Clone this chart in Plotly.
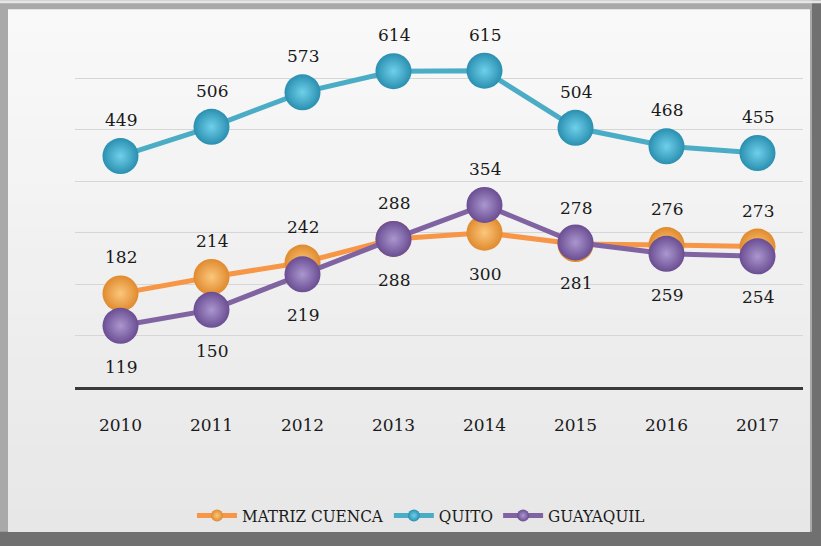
import plotly.graph_objects as go

# data
years = ["2010", "2011", "2012", "2013", "2014", "2015", "2016", "2017"]
matriz_cuenca = [182, 214, 242, 288, 300, 278, 276, 273]
quito = [449, 506, 573, 614, 615, 504, 468, 455]
guayaquil = [119, 150, 219, 288, 354, 281, 259, 254]

# which side of the marker each value label sits on
cuenca_side = ["top", "top", "top", "top", "bottom", "top", "top", "top"]
quito_side = ["top"] * 8
guayaquil_side = ["bottom", "bottom", "bottom", "bottom", "top", "bottom", "bottom", "bottom"]

FONT = "DejaVu Serif"
TEXT = "#1a1a1a"

W, H = 821, 546
L, R, T, B = 75, 18, 27, 156
PW, PH = W - L - R, H - T - B


def px_x(px):
    return (px - L) / PW


def px_y(py):
    return (H - B - py) / PH


# name, values, label sides, line colour, sphere rim, sphere centre
series = [
    ("MATRIZ CUENCA", matriz_cuenca, cuenca_side, "#f79646", "#e08a2e", "#fbc77c"),
    ("QUITO", quito, quito_side, "#4bacc6", "#2a8fb0", "#6fd0ea"),
    ("GUAYAQUIL", guayaquil, guayaquil_side, "#8064a2", "#6a4d92", "#ab97cf"),
]

xpos = list(range(len(years)))

fig = go.Figure()
annotations = []
for name, vals, sides, line_col, rim_col, centre_col in series:
    fig.add_trace(
        go.Scatter(
            x=xpos,
            y=vals,
            name=name,
            mode="lines+markers",
            line=dict(color=line_col, width=5),
            marker=dict(
                size=36,
                color=rim_col,
                gradient=dict(type="radial", color=centre_col),
                line=dict(width=0),
            ),
        )
    )
    for xi, v, side in zip(xpos, vals, sides):
        annotations.append(
            dict(
                x=xi,
                y=v,
                text=str(v),
                showarrow=False,
                yshift=36 if side == "top" else -41,
                font=dict(family=FONT, size=17, color=TEXT),
            )
        )

# frame around the chart: grey bevel, then a softly shaded panel
shapes = [
    dict(type="rect", xref="paper", yref="paper", layer="below",
         x0=px_x(0), x1=px_x(W - 9), y0=px_y(H - 10), y1=px_y(0),
         fillcolor="#a9a9a9", line=dict(width=0)),
    dict(type="rect", xref="paper", yref="paper", layer="below",
         x0=px_x(0), x1=px_x(W), y0=px_y(3), y1=px_y(0),
         fillcolor="#e6e6e6", line=dict(width=0)),
]
n_bands = 24
top, bot = 9, H - 10
step = (bot - top) / n_bands
for i in range(n_bands):
    g = round(249 - i * 18 / (n_bands - 1))
    shapes.append(
        dict(type="rect", xref="paper", yref="paper", layer="below",
             x0=px_x(8), x1=px_x(W - 11), y0=px_y(bot), y1=px_y(top + i * step),
             fillcolor=f"rgb({g},{g},{g})", line=dict(width=0))
    )

fig.update_layout(
    width=W,
    height=H,
    margin=dict(l=L, r=R, t=T, b=B),
    paper_bgcolor="#707070",
    plot_bgcolor="rgba(0,0,0,0)",
    font=dict(family=FONT, size=17, color=TEXT),
    showlegend=True,
    legend=dict(
        orientation="h",
        x=px_x(421),
        y=px_y(520),
        xanchor="center",
        yanchor="middle",
        font=dict(family="DejaVu Serif Condensed, DejaVu Serif", size=17, color=TEXT),
        bgcolor="rgba(0,0,0,0)",
        itemsizing="constant",
        itemwidth=40,
    ),
    annotations=annotations,
    shapes=shapes,
    xaxis=dict(
        range=[-0.5, len(years) - 0.5],
        tickmode="array",
        tickvals=xpos,
        ticktext=years,
        showgrid=False,
        zeroline=False,
        showline=True,
        linecolor="#3a3a3a",
        linewidth=3,
        ticks="outside",
        ticklen=21,
        tickcolor="rgba(0,0,0,0)",
        tickfont=dict(family=FONT, size=17, color=TEXT),
    ),
    yaxis=dict(
        range=[0, 700],
        dtick=100,
        showgrid=True,
        gridcolor="#d6d6d6",
        gridwidth=1,
        showticklabels=False,
        zeroline=False,
    ),
)

# the page's default 8px body margin would shift the whole chart
fig.write_html(
    "out.html",
    config={"displayModeBar": False},
    post_script="document.body.style.margin='0';",
)
